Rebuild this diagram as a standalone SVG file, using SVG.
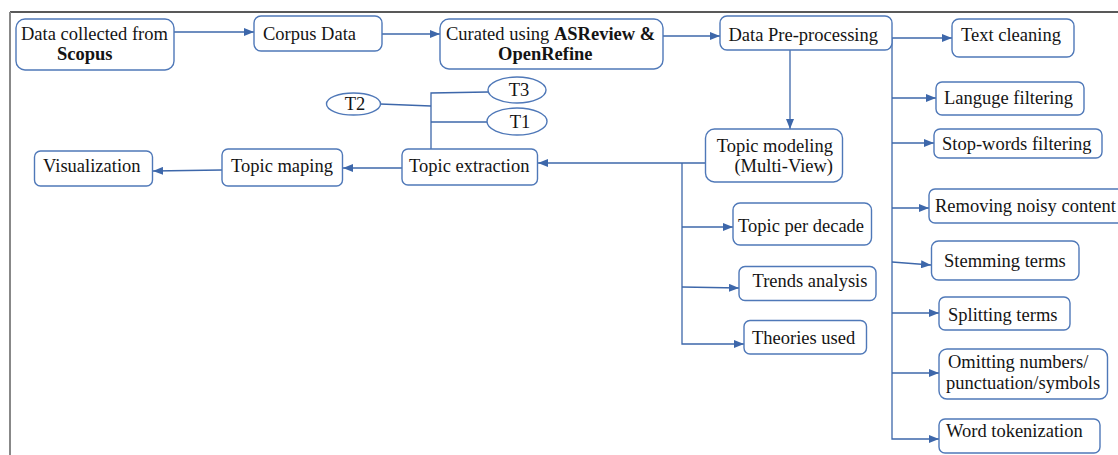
<svg xmlns="http://www.w3.org/2000/svg" width="1118" height="455" viewBox="0 0 1118 455">
<style>
.b{fill:#fff;stroke:#4f78b8;stroke-width:1.4}
.t{font-family:"Liberation Serif","Times New Roman",serif;font-size:18.5px;fill:#141414}
.bd{font-weight:bold}
.c{fill:none;stroke:#3d67aa;stroke-width:1.3}
.a{marker-end:url(#ah)}
</style>
<defs>
<marker id="ah" viewBox="0 0 10 8" refX="10" refY="4" markerWidth="10" markerHeight="8" markerUnits="userSpaceOnUse" orient="auto">
<path d="M0,0 L10,4 L0,8 Z" fill="#3d67aa"/>
</marker>
</defs>
<rect width="1118" height="455" fill="#fff"/>
<line x1="10" y1="12" x2="1118" y2="12" stroke="#222" stroke-width="1.5"/>
<line x1="10" y1="12" x2="10" y2="455" stroke="#888" stroke-width="2"/>

<g id="connectors">
<path class="c a" d="M174,32 H254"/>
<path class="c a" d="M382,34 H440"/>
<path class="c a" d="M663,36 H720"/>
<path class="c a" d="M892,38 H952"/>
<path class="c a" d="M892,38 V439 H939"/>
<path class="c a" d="M892,98 H936"/>
<path class="c a" d="M892,143 H934"/>
<path class="c a" d="M892,208 H929"/>
<path class="c a" d="M892,262 L931,265"/>
<path class="c a" d="M892,313 H939"/>
<path class="c a" d="M892,373 H939"/>
<path class="c a" d="M790,50 V129"/>
<path class="c a" d="M705,163 H538"/>
<path class="c a" d="M682,163 V344 H744"/>
<path class="c a" d="M682,227 H733"/>
<path class="c a" d="M682,287 L739,288"/>
<path class="c a" d="M402,168 H343"/>
<path class="c a" d="M222,170 L153,171"/>
<path class="c" d="M431,149 V93 L488,92"/>
<path class="c" d="M380,104 L431,106"/>
<path class="c" d="M431,122 H487"/>
</g>

<g id="n-scopus"><rect class="b" x="16" y="19" width="158" height="51" rx="9"/>
<text class="t" x="21" y="39.5">Data collected from</text>
<text class="t bd" x="57" y="60">Scopus</text></g>

<g id="n-corpus"><rect class="b" x="254" y="16" width="128" height="35" rx="7"/>
<text class="t" x="263" y="39.5">Corpus Data</text></g>

<g id="n-curated"><rect class="b" x="440" y="19" width="223" height="50" rx="9"/>
<text class="t" x="446" y="40">Curated using <tspan class="bd">ASReview &amp;</tspan></text>
<text class="t bd" x="498" y="60">OpenRefine</text></g>

<g id="n-dpp"><rect class="b" x="720" y="16" width="172" height="34" rx="7"/>
<text class="t" x="728.5" y="40.5">Data Pre-processing</text></g>

<g id="n-textclean"><rect class="b" x="952" y="19" width="122" height="38" rx="7"/>
<text class="t" x="961" y="40.5">Text cleaning</text></g>

<g id="n-lang"><rect class="b" x="936" y="82" width="148" height="33" rx="6"/>
<text class="t" x="944" y="104">Languge filtering</text></g>

<g id="n-stop"><rect class="b" x="934" y="129" width="168" height="29" rx="6"/>
<text class="t" x="942" y="150">Stop-words filtering</text></g>

<g id="n-noisy"><rect class="b" x="929" y="189" width="196" height="34" rx="6"/>
<text class="t" x="935" y="212">Removing noisy content</text></g>

<g id="n-stem"><rect class="b" x="931.5" y="241" width="147.5" height="39" rx="7"/>
<text class="t" x="944" y="267">Stemming terms</text></g>

<g id="n-split"><rect class="b" x="939" y="297" width="131" height="33" rx="6"/>
<text class="t" x="948" y="321">Splitting terms</text></g>

<g id="n-omit"><rect class="b" x="939" y="349" width="168.5" height="50" rx="8"/>
<text class="t" x="948" y="368">Omitting numbers/</text>
<text class="t" x="946" y="389">punctuation/symbols</text></g>

<g id="n-token"><rect class="b" x="939" y="419" width="161" height="34" rx="6"/>
<text class="t" x="946" y="437">Word tokenization</text></g>

<g id="n-topicmodel"><rect class="b" x="705.5" y="129" width="137" height="53" rx="9"/>
<text class="t" x="833" y="151.5" text-anchor="end">Topic modeling</text>
<text class="t" x="833" y="171.5" text-anchor="end">(Multi-View)</text></g>

<g id="n-decade"><rect class="b" x="733" y="203" width="138.5" height="42" rx="7"/>
<text class="t" x="738" y="232">Topic per decade</text></g>

<g id="n-trends"><rect class="b" x="739" y="266.5" width="137" height="34" rx="6"/>
<text class="t" x="752.5" y="287">Trends analysis</text></g>

<g id="n-theories"><rect class="b" x="744" y="320.5" width="122.5" height="33.5" rx="6"/>
<text class="t" x="752" y="344">Theories used</text></g>

<g id="n-extraction"><rect class="b" x="402" y="149" width="135.5" height="36" rx="6"/>
<text class="t" x="409" y="172">Topic extraction</text></g>

<g id="n-maping"><rect class="b" x="222" y="149" width="120.5" height="37" rx="6"/>
<text class="t" x="231" y="172">Topic maping</text></g>

<g id="n-visual"><rect class="b" x="34.5" y="151" width="118" height="35" rx="6"/>
<text class="t" x="43" y="172">Visualization</text></g>

<g id="n-t2"><ellipse class="b" cx="353.5" cy="104" rx="27" ry="11"/>
<text class="t" x="355" y="110" text-anchor="middle">T2</text></g>

<g id="n-t3"><ellipse class="b" cx="517" cy="90" rx="29" ry="13"/>
<text class="t" x="519" y="96" text-anchor="middle">T3</text></g>

<g id="n-t1"><ellipse class="b" cx="517" cy="121.5" rx="30" ry="13.5"/>
<text class="t" x="520" y="128" text-anchor="middle">T1</text></g>
</svg>
